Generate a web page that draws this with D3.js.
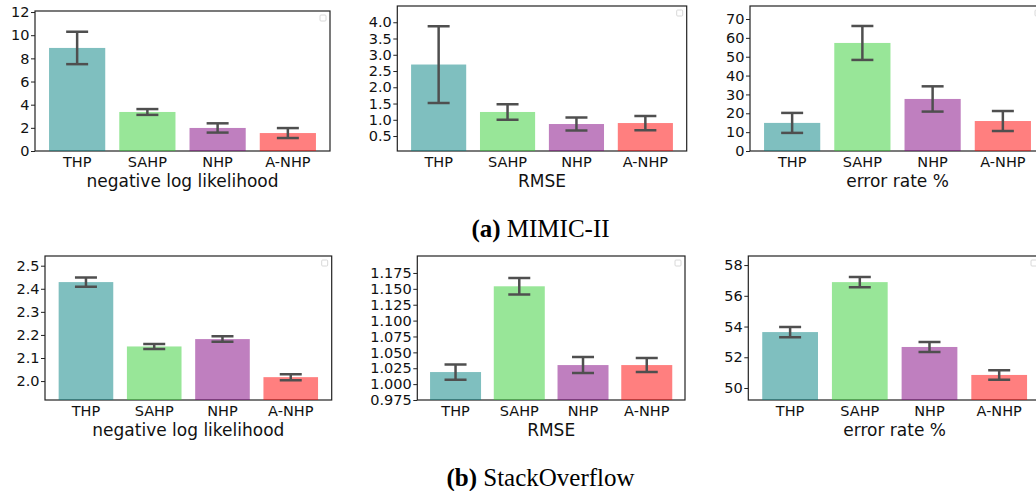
<!DOCTYPE html>
<html>
<head>
<meta charset="utf-8">
<script src="https://cdn.jsdelivr.net/npm/d3@7"></script>
<style>
  html, body { margin: 0; padding: 0; background: #fff; overflow: hidden; }
  svg { display: block; }
</style>
</head>
<body>
<svg id="chart" width="1036" height="491"></svg>
<script>
// ---------------- data ----------------
const categories = ["THP", "SAHP", "NHP", "A-NHP"];

const mimicNllMean  = [8.9, 3.37, 1.99, 1.55];
const mimicNllErr   = [1.4, 0.25, 0.4, 0.43];
const mimicRmseMean = [2.7, 1.24, 0.87, 0.9];
const mimicRmseErr  = [1.18, 0.24, 0.2, 0.22];
const mimicErrMean  = [14.9, 57.3, 27.6, 15.9];
const mimicErrErr   = [5.3, 9.0, 6.7, 5.3];

const soNllMean  = [2.429, 2.150, 2.182, 2.017];
const soNllErr   = [0.02, 0.011, 0.012, 0.013];
const soRmseMean = [1.019, 1.154, 1.030, 1.030];
const soRmseErr  = [0.012, 0.013, 0.0125, 0.011];
const soErrMean  = [53.64, 56.89, 52.67, 50.85];
const soErrErr   = [0.33, 0.33, 0.33, 0.31];

const ticksMimicNll  = [0, 2, 4, 6, 8, 10, 12];
const ticksMimicRmse = [0.5, 1.0, 1.5, 2.0, 2.5, 3.0, 3.5, 4.0];
const ticksMimicErr  = [0, 10, 20, 30, 40, 50, 60, 70];
const ticksSoNll     = [2.0, 2.1, 2.2, 2.3, 2.4, 2.5];
const ticksSoRmse    = [0.975, 1.000, 1.025, 1.050, 1.075, 1.100, 1.125, 1.150, 1.175];
const ticksSoErr     = [50, 52, 54, 56, 58];

const metricLabels = ["negative log likelihood", "RMSE", "error rate %"];
const captionA = ["(a)", " MIMIC-II"];
const captionB = ["(b)", " StackOverflow"];

// ---------------- style ----------------
const barColors = ["#008080", "#32cd32", "#800080", "#ff0000"];
const sans = "'DejaVu Sans', sans-serif";
const serif = "'Liberation Serif', 'Times New Roman', serif";

const svg = d3.select("#chart");

const panels = [
  { box: [35, 330, 11, 151],     dom: [0, 12.09],      mean: mimicNllMean,  err: mimicNllErr,  ticks: ticksMimicNll,  fmt: d3.format("d"),   label: metricLabels[0] },
  { box: [397.3, 686.7, 6, 151], dom: [0.04, 4.5],     mean: mimicRmseMean, err: mimicRmseErr, ticks: ticksMimicRmse, fmt: d3.format(".1f"), label: metricLabels[1] },
  { box: [750, 1045, 6, 151],    dom: [0, 76.9],       mean: mimicErrMean,  err: mimicErrErr,  ticks: ticksMimicErr,  fmt: d3.format("d"),   label: metricLabels[2] },
  { box: [45, 331.7, 256, 400],  dom: [1.918, 2.542],  mean: soNllMean,     err: soNllErr,     ticks: ticksSoNll,     fmt: d3.format(".1f"), label: metricLabels[0] },
  { box: [417.3, 685, 256, 400], dom: [0.975, 1.2017], mean: soRmseMean,    err: soRmseErr,    ticks: ticksSoRmse,    fmt: d3.format(".3f"), label: metricLabels[1] },
  { box: [748.3, 1041, 256, 400],dom: [49.22, 58.59],  mean: soErrMean,     err: soErrErr,     ticks: ticksSoErr,     fmt: d3.format("d"),   label: metricLabels[2] }
];

panels.forEach((p, i) => {
  const [L, R, T, B] = p.box;
  const x = d3.scaleBand().domain(categories).range([L, R]).paddingInner(0.2).paddingOuter(0.2);
  const y = d3.scaleLinear().domain(p.dom).range([B, T]);
  const g = svg.append("g");

  const clipId = "clip" + i;
  svg.append("clipPath").attr("id", clipId)
    .append("rect").attr("x", L).attr("y", T).attr("width", R - L).attr("height", B - T);

  // frame (drawn under semi-transparent bars)
  g.append("rect").attr("x", L).attr("y", T).attr("width", R - L).attr("height", B - T)
    .attr("fill", "none").attr("stroke", "#222").attr("stroke-width", 1.2);

  const base = Math.max(0, p.dom[0]);
  const plot = g.append("g").attr("clip-path", `url(#${clipId})`);
  plot.selectAll("rect.bar").data(categories).join("rect")
    .attr("class", "bar")
    .attr("x", d => x(d))
    .attr("width", x.bandwidth())
    .attr("y", (d, k) => y(p.mean[k]))
    .attr("height", (d, k) => y(base) - y(p.mean[k]))
    .attr("fill", (d, k) => barColors[k])
    .attr("fill-opacity", 0.5);

  // error bars
  const eb = plot.selectAll("g.eb").data(categories).join("g").attr("class", "eb")
    .attr("stroke", "#4f4f4f").attr("stroke-width", 2.5);
  const cap = 11;
  eb.append("line")
    .attr("x1", d => x(d) + x.bandwidth() / 2).attr("x2", d => x(d) + x.bandwidth() / 2)
    .attr("y1", (d, k) => y(p.mean[k] - p.err[k])).attr("y2", (d, k) => y(p.mean[k] + p.err[k]));
  eb.append("line")
    .attr("x1", d => x(d) + x.bandwidth() / 2 - cap).attr("x2", d => x(d) + x.bandwidth() / 2 + cap)
    .attr("y1", (d, k) => y(p.mean[k] + p.err[k])).attr("y2", (d, k) => y(p.mean[k] + p.err[k]));
  eb.append("line")
    .attr("x1", d => x(d) + x.bandwidth() / 2 - cap).attr("x2", d => x(d) + x.bandwidth() / 2 + cap)
    .attr("y1", (d, k) => y(p.mean[k] - p.err[k])).attr("y2", (d, k) => y(p.mean[k] - p.err[k]));

  // y axis
  const ya = g.append("g").attr("transform", `translate(${L},0)`)
    .call(d3.axisLeft(y).tickValues(p.ticks).tickFormat(p.fmt).tickSize(4).tickPadding(1.5));
  ya.select(".domain").remove();
  ya.selectAll("line").attr("stroke", "#222");
  ya.selectAll("text").attr("font-family", sans).attr("font-size", 14.5).attr("fill", "#111");

  // x axis
  const xa = g.append("g").attr("transform", `translate(0,${B})`)
    .call(d3.axisBottom(x).tickSize(0).tickPadding(6));
  xa.select(".domain").remove();
  xa.selectAll("text").attr("font-family", sans).attr("font-size", 14.5).attr("fill", "#111");

  // axis label
  g.append("text").attr("x", (L + R) / 2).attr("y", B + 35.5)
    .attr("text-anchor", "middle").attr("font-family", sans).attr("font-size", 17).attr("fill", "#111")
    .text(p.label);

  // empty legend box
  g.append("rect").attr("x", R - 10).attr("y", T + 4).attr("width", 6).attr("height", 6)
    .attr("rx", 1).attr("fill", "#fff").attr("stroke", "#d8d8d8").attr("stroke-width", 1);
});

// captions
function caption(parts, yBase) {
  const t = svg.append("text").attr("x", 540.5).attr("y", yBase)
    .attr("text-anchor", "middle").attr("font-family", serif).attr("font-size", 25).attr("fill", "#000");
  t.append("tspan").attr("font-weight", "bold").text(parts[0]);
  t.append("tspan").text(parts[1]);
}
caption(captionA, 236.5);
caption(captionB, 486);
</script>
</body>
</html>
